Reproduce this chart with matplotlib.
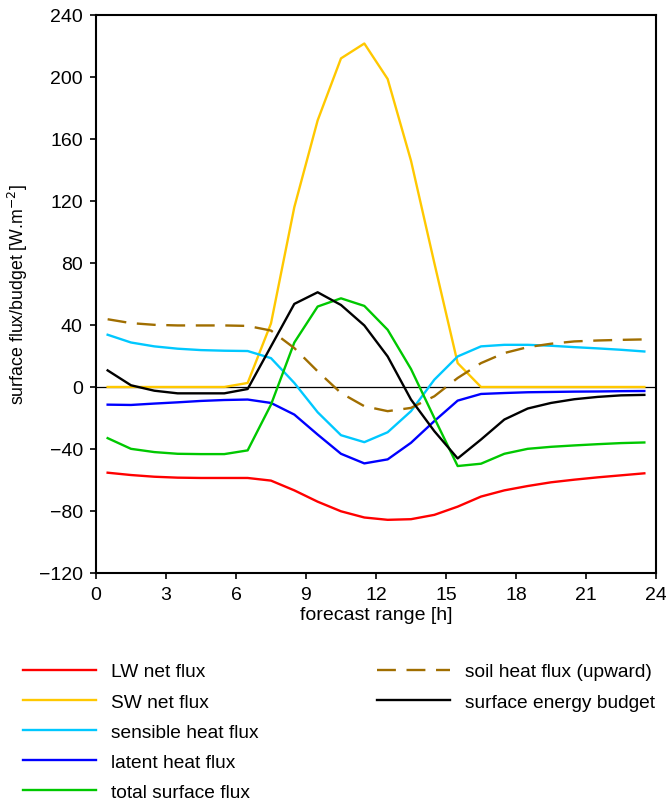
import matplotlib.pyplot as plt

plt.rcParams['font.family'] = ['Liberation Sans', 'DejaVu Sans']

# hourly values at mid-hour
hours = [h + 0.5 for h in range(24)]

lw_net = [-55.3, -56.8, -57.9, -58.5, -58.7, -58.7, -58.7, -60.4, -66.7, -74.0, -80.2, -84.2,
          -85.7, -85.3, -82.5, -77.2, -70.7, -66.7, -63.9, -61.5, -59.8, -58.3, -57.0, -55.7]
sw_net = [0, 0, 0, 0, 0, 0, 2.6, 41, 116, 172, 212, 221.6,
          198.7, 146, 80, 15.4, 0, 0, 0, 0, 0, 0, 0, 0]
sensible = [33.7, 28.7, 26.2, 24.7, 23.8, 23.4, 23.2, 18.6, 2.6, -16.3, -31.1, -35.6,
            -29.2, -15.6, 4.7, 19.7, 26.2, 27.2, 27.2, 26.6, 25.7, 24.9, 24.0, 22.9]
latent = [-11.4, -11.6, -10.7, -9.9, -9.0, -8.4, -8.1, -10.3, -17.8, -30.7, -43.1, -49.3,
          -46.7, -36.0, -22.0, -8.8, -4.5, -3.9, -3.4, -3.2, -3.0, -2.9, -2.7, -2.6]
total = [-33.0, -39.9, -42.0, -43.1, -43.3, -43.3, -40.9, -11.4, 28.7, 51.9, 57.2, 52.3,
         36.9, 11.6, -20.0, -51.0, -49.5, -43.1, -39.9, -38.6, -37.7, -36.9, -36.2, -35.8]
soil = [43.7, 41.2, 40.1, 39.7, 39.7, 39.7, 39.4, 36.4, 25.1, 10.1, -3.9, -12.4,
        -15.6, -13.5, -6.0, 5.8, 15.4, 21.9, 25.7, 27.9, 29.4, 30.0, 30.4, 30.7]
budget = [10.7, 1.1, -2.4, -4.1, -4.1, -4.1, -1.3, 26.2, 53.6, 61.1, 52.9, 39.7,
          19.7, -8.1, -28.5, -46.1, -33.9, -21.0, -13.9, -10.3, -7.9, -6.4, -5.4, -5.1]

xticks = list(range(0, 25, 3))
yticks = list(range(-120, 241, 40))

fig = plt.figure(figsize=(6.66, 8.03), dpi=100)
ax = fig.add_axes([0.1441, 0.2852, 0.8409, 0.6949])

lwd = 1.7
ax.axhline(0, color='black', lw=0.9, zorder=1)
l1, = ax.plot(hours, lw_net, color='#ff0000', lw=lwd)
l2, = ax.plot(hours, sw_net, color='#ffc800', lw=lwd)
l3, = ax.plot(hours, sensible, color='#00c8ff', lw=lwd)
l4, = ax.plot(hours, latent, color='#0000ff', lw=lwd)
l5, = ax.plot(hours, total, color='#00c800', lw=lwd)
l6, = ax.plot(hours, soil, color='#a06e00', lw=lwd, dashes=(8, 4.5))
l7, = ax.plot(hours, budget, color='black', lw=lwd)

ax.set_xlim(0, 24)
ax.set_ylim(-120, 240)
ax.set_xticks(xticks)
ax.set_yticks(yticks)
ax.set_yticklabels([str(v).replace('-', '\u2212') for v in yticks])
ax.tick_params(direction='out', length=4.5, width=1.2, pad=5, labelsize=14,
               top=False, right=False)
for s in ax.spines.values():
    s.set_linewidth(1.5)
ax.set_xlabel('forecast range [h]', fontsize=14, labelpad=2)
ax.set_ylabel('surface flux/budget [W.m$^{-2}$]', fontsize=12.8, labelpad=6)

leg_kw = dict(frameon=False, fontsize=13.8, handlelength=3.8, handletextpad=0.8,
              labelspacing=0.66, borderaxespad=0, borderpad=0)
fig.legend([l1, l2, l3, l4, l5],
           ['LW net flux', 'SW net flux', 'sensible heat flux', 'latent heat flux',
            'total surface flux'],
           loc='upper left', bbox_to_anchor=(0.0345, 0.173), **leg_kw)
fig.legend([l6, l7], ['soil heat flux (upward)', 'surface energy budget'],
           loc='upper left', bbox_to_anchor=(0.566, 0.173), **leg_kw)

fig.savefig('out.png', dpi=100)
